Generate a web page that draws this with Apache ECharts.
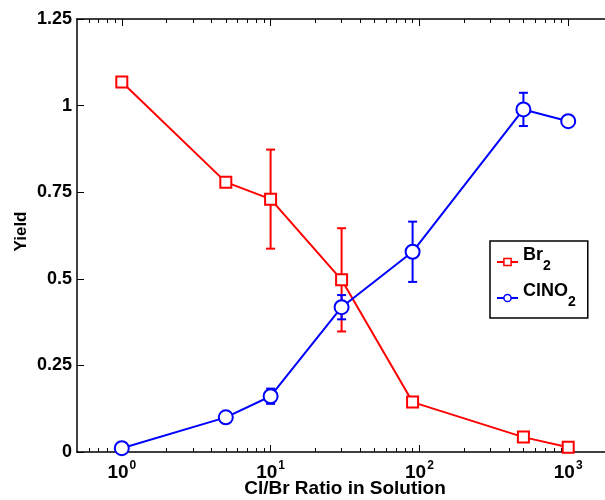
<!DOCTYPE html>
<html>
<head>
<meta charset="utf-8">
<script src="https://cdn.jsdelivr.net/npm/echarts@6/dist/echarts.min.js"></script>
<style>
html,body{margin:0;padding:0;background:#fff;}
#c{width:605px;height:500px;}
</style>
</head>
<body>
<div id="c"></div>
<script>
// ---- data ----
const ratios = [1, 5, 10, 30, 90, 500, 1000];
const br2 = [1.068, 0.779, 0.730, 0.497, 0.144, 0.043, 0.014];
const br2Err = [0, 0, 0.143, 0.149, 0, 0, 0];
const clno2 = [0.011, 0.100, 0.161, 0.418, 0.578, 0.989, 0.955];
const clno2Err = [0, 0, 0.022, 0.035, 0.087, 0.048, 0];
const xMajorTicks = [0, 1, 2, 3]; // exponents: 10^0 .. 10^3
const yTicks = [0, 0.25, 0.5, 0.75, 1, 1.25];
const xMin = 0.5, xMax = 2000;

const FONT = 'Liberation Sans, Arial, Helvetica, sans-serif';
const lg = Math.log10;

const minorVals = [];
for (let d = -1; d <= 3; d++) {
  for (let m = 2; m <= 9; m++) {
    const v = m * Math.pow(10, d);
    if (v > xMin && v < xMax) minorVals.push(lg(v));
  }
}

function pts(vals) { return ratios.map((r, i) => [lg(r), vals[i]]); }
function errPts(vals, errs) {
  const out = [];
  ratios.forEach((r, i) => { if (errs[i] > 0) out.push([lg(r), vals[i] - errs[i], vals[i] + errs[i]]); });
  return out;
}

function errRender(color) {
  return function (params, api) {
    const x = api.value(0), lo = api.value(1), hi = api.value(2);
    const p1 = api.coord([x, lo]), p2 = api.coord([x, hi]);
    const hw = 4.5;
    const st = { stroke: color, lineWidth: 2 };
    return {
      type: 'group',
      children: [
        { type: 'line', shape: { x1: p1[0], y1: p1[1], x2: p2[0], y2: p2[1] }, style: st },
        { type: 'line', shape: { x1: p1[0] - hw, y1: p1[1], x2: p1[0] + hw, y2: p1[1] }, style: st },
        { type: 'line', shape: { x1: p2[0] - hw, y1: p2[1], x2: p2[0] + hw, y2: p2[1] }, style: st }
      ]
    };
  };
}

const baseX = {
  type: 'value', min: lg(xMin), max: lg(xMax),
  splitLine: { show: false }
};
const axLine = { show: true, onZero: false, lineStyle: { color: '#000', width: 1.5 } };
const noLine = { show: false, onZero: false };

const chart = echarts.init(document.getElementById('c'));
chart.setOption({
  animation: false,
  backgroundColor: '#fff',
  textStyle: { fontFamily: FONT },
  grid: { left: 77, top: 19, right: -8, bottom: 48, containLabel: false, outerBoundsMode: 'none' },
  xAxis: [
    Object.assign({}, baseX, {
      position: 'bottom',
      name: 'Cl/Br Ratio in Solution',
      nameLocation: 'middle', nameGap: 27, nameMoveOverlap: false,
      nameTextStyle: { fontSize: 19, fontWeight: 'bold', color: '#000', fontFamily: FONT },
      axisLine: axLine,
      axisTick: { show: true, inside: true, length: 7, customValues: xMajorTicks, lineStyle: { color: '#000', width: 1 } },
      axisLabel: {
        show: true, margin: 8, customValues: xMajorTicks,
        formatter: function (v) { return '{a|10}{b|' + Math.round(v) + '}'; },
        rich: {
          a: { fontSize: 19, fontWeight: 'bold', color: '#000', fontFamily: FONT, verticalAlign: 'bottom', lineHeight: 22 },
          b: { fontSize: 12, fontWeight: 'bold', color: '#000', fontFamily: FONT, verticalAlign: 'top', lineHeight: 22, padding: [0, 0, 0, 1] }
        }
      }
    }),
    Object.assign({}, baseX, {
      position: 'bottom',
      axisLine: noLine,
      axisTick: { show: true, inside: true, length: 4, customValues: minorVals, lineStyle: { color: '#000', width: 1 } },
      axisLabel: { show: false }
    }),
    Object.assign({}, baseX, {
      position: 'top',
      axisLine: axLine,
      axisTick: { show: true, inside: true, length: 7, customValues: xMajorTicks, lineStyle: { color: '#000', width: 1 } },
      axisLabel: { show: false }
    }),
    Object.assign({}, baseX, {
      position: 'top',
      axisLine: noLine,
      axisTick: { show: true, inside: true, length: 4, customValues: minorVals, lineStyle: { color: '#000', width: 1 } },
      axisLabel: { show: false }
    })
  ],
  yAxis: [
    {
      type: 'value', min: 0, max: 1.25, interval: 0.25, position: 'left',
      name: 'Yield', nameLocation: 'middle', nameGap: 47, nameRotate: 90, nameMoveOverlap: false,
      nameTextStyle: { fontSize: 17, fontWeight: 'bold', color: '#000', fontFamily: FONT, padding: [0, 0, 0, 8] },
      splitLine: { show: false },
      axisLine: axLine,
      axisTick: { show: true, inside: true, length: 7, lineStyle: { color: '#000', width: 1 } },
      axisLabel: { show: true, margin: 5, fontSize: 18, fontWeight: 'bold', color: '#000', fontFamily: FONT,
        customValues: yTicks }
    },
    {
      type: 'value', min: 0, max: 1.25, interval: 0.25, position: 'right',
      splitLine: { show: false },
      axisLine: axLine,
      axisTick: { show: true, inside: true, length: 8, lineStyle: { color: '#000', width: 1 } },
      axisLabel: { show: false }
    }
  ],
  legend: {
    left: 490, top: 241, orient: 'vertical',
    data: ['Br2', 'ClNO2'],
    itemWidth: 21, itemHeight: 9, itemGap: -2,
    borderColor: '#000', borderWidth: 1.5, borderRadius: 0,
    padding: [2, 12, 1, 6],
    backgroundColor: '#fff',
    itemStyle: { borderWidth: 1.5 },
    formatter: function (n) { return n === 'Br2' ? '{n|Br}{s|2}' : '{n|ClNO}{s|2}'; },
    textStyle: {
      rich: {
        n: { fontSize: 18, fontWeight: 'bold', color: '#000', fontFamily: FONT, verticalAlign: 'top', lineHeight: 38, padding: [3, 0, 0, 0] },
        s: { fontSize: 14, fontWeight: 'bold', color: '#000', fontFamily: FONT, verticalAlign: 'bottom', lineHeight: 38, padding: [0, 0, 8, 0] }
      }
    }
  },
  series: [
    {
      name: 'Br2 err', type: 'custom', xAxisIndex: 0, yAxisIndex: 0,
      renderItem: errRender('#ff0000'), data: errPts(br2, br2Err), z: 2, silent: true
    },
    {
      name: 'Br2', type: 'line', xAxisIndex: 0, yAxisIndex: 0, data: pts(br2),
      symbol: 'rect', symbolSize: 11, showAllSymbol: true,
      lineStyle: { color: '#ff0000', width: 2 },
      itemStyle: { color: '#fff', borderColor: '#ff0000', borderWidth: 2 },
      z: 2
    },
    {
      name: 'ClNO2 err', type: 'custom', xAxisIndex: 0, yAxisIndex: 0,
      renderItem: errRender('#0000ff'), data: errPts(clno2, clno2Err), z: 3, silent: true
    },
    {
      name: 'ClNO2', type: 'line', xAxisIndex: 0, yAxisIndex: 0, data: pts(clno2),
      symbol: 'circle', symbolSize: 14, showAllSymbol: true,
      lineStyle: { color: '#0000ff', width: 2 },
      itemStyle: { color: '#fff', borderColor: '#0000ff', borderWidth: 2 },
      z: 3
    }
  ]
});
</script>
</body>
</html>
